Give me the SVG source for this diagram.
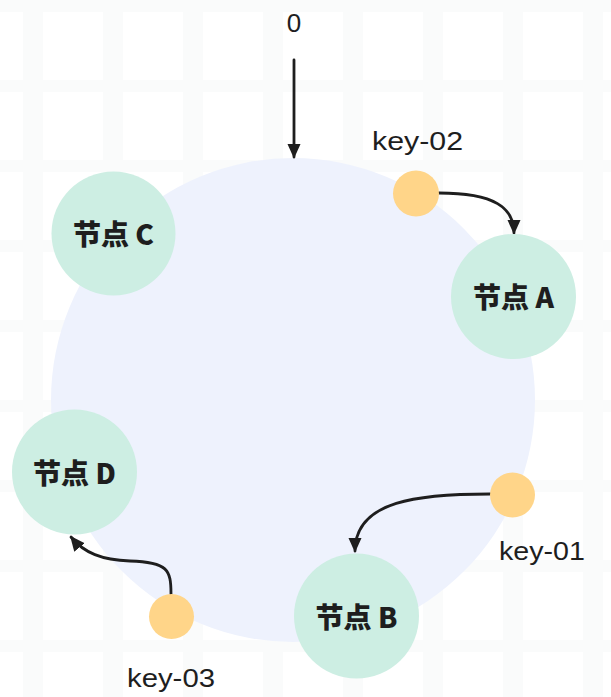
<svg xmlns="http://www.w3.org/2000/svg" width="611" height="697" viewBox="0 0 611 697">
  <defs>
    <pattern id="grid" x="23" y="0" width="80" height="80" patternUnits="userSpaceOnUse">
      <rect x="0" y="0" width="80" height="80" fill="#ffffff"/>
      <rect x="0" y="0" width="20" height="80" fill="#fafbfb"/>
      <rect x="0" y="-4" width="80" height="16" fill="#fafbfb"/>
    </pattern>
    <marker id="arrow" viewBox="0 0 10 10" refX="9" refY="5" markerWidth="15" markerHeight="15" markerUnits="userSpaceOnUse" orient="auto">
      <path d="M0,0.5 L10,5 L0,9.5 z" fill="#1e1e1e"/>
    </marker>
    <style>
      .ring { fill: #eef2fd; }
      .node { fill: #cdeee3; }
      .key { fill: #ffd589; }
      .nodelabel { font-family: "Noto Sans CJK SC", "Noto Sans", sans-serif; font-weight: 900; font-size: 28px; fill: #1e1e1e; text-anchor: middle; }
      .keylabel { font-family: "Liberation Sans", "DejaVu Sans", sans-serif; font-size: 26px; fill: #1e1e1e; }
      .conn { fill: none; stroke: #1e1e1e; stroke-width: 2.8; stroke-linecap: round; marker-end: url(#arrow); }
    </style>
  </defs>

  <rect x="0" y="0" width="611" height="697" fill="url(#grid)"/>

  <g id="ring">
    <circle class="ring" cx="293" cy="400" r="242"/>
  </g>

  <g id="zero-label">
    <text class="keylabel" x="294" y="32" text-anchor="middle" font-size="27">0</text>
  </g>

  <g id="connectors">
    <path class="conn" d="M294,60 L294,157"/>
    <path class="conn" d="M439,193 C495,193 514,208 514,233"/>
    <path class="conn" d="M490,494 C420,494 355,500 355,551"/>
    <path class="conn" d="M171,594 C171,570 168,562 130,561 C102,560 84,553 71,537"/>
  </g>

  <g id="node-c">
    <circle class="node" cx="113.5" cy="233.5" r="62"/>
    <text class="nodelabel" x="113.5" y="245">节点 C</text>
  </g>
  <g id="node-a">
    <circle class="node" cx="513.5" cy="296.5" r="62.5"/>
    <text class="nodelabel" x="513.5" y="308">节点 A</text>
  </g>
  <g id="node-d">
    <circle class="node" cx="74.5" cy="472" r="62.5"/>
    <text class="nodelabel" x="74.5" y="483.5">节点 D</text>
  </g>
  <g id="node-b">
    <circle class="node" cx="356.5" cy="616" r="62.5"/>
    <text class="nodelabel" x="356.5" y="627.5">节点 B</text>
  </g>

  <g id="key-02">
    <circle class="key" cx="416" cy="193.5" r="23"/>
    <text class="keylabel" x="372" y="150" textLength="91" lengthAdjust="spacingAndGlyphs">key-02</text>
  </g>
  <g id="key-01">
    <circle class="key" cx="512.5" cy="495" r="22.5"/>
    <text class="keylabel" x="499" y="560" textLength="86" lengthAdjust="spacingAndGlyphs">key-01</text>
  </g>
  <g id="key-03">
    <circle class="key" cx="171.5" cy="616.5" r="22.5"/>
    <text class="keylabel" x="127" y="687" textLength="88" lengthAdjust="spacingAndGlyphs">key-03</text>
  </g>
</svg>
